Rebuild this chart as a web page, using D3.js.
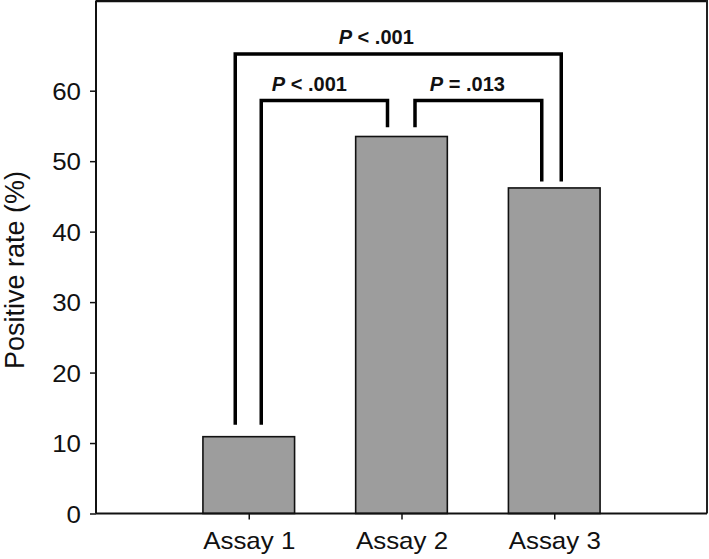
<html>
<head>
<script src="https://cdn.jsdelivr.net/npm/d3@7"></script>
<style>
  body { margin: 0; background: #fff; }
  text { font-family: "Liberation Sans", Arial, sans-serif; }
</style>
</head>
<body>
<svg id="chart" width="709" height="559"></svg>
<script>
// data
var assays = ["Assay 1", "Assay 2", "Assay 3"];
var positive = [10.9, 53.5, 46.2];
var yTicks = [0, 10, 20, 30, 40, 50, 60];
var yLabel = "Positive rate (%)";

// comparisons: which bars, p-value text, bracket level and leg ends (in % units)
var compFrom = ["Assay 1", "Assay 1", "Assay 2"];
var compTo = ["Assay 3", "Assay 2", "Assay 3"];
var compOp = ["<", "<", "="];
var compP = [".001", ".001", ".013"];
var compLevel = [65.2, 58.6, 58.6];
var compFromEnd = [12.6, 12.6, 54.8];
var compToEnd = [47.1, 54.8, 47.1];

var plotL = 96, plotR = 707, plotT = 0.5, plotB = 513.5;

var svg = d3.select("#chart");

var x = d3.scalePoint()
    .domain(assays)
    .range([plotL, plotR])
    .padding(1);

var y = d3.scaleLinear()
    .domain([0, 72.8])
    .range([plotB, plotT]);

var barW = x.step() * 0.6;

// leg offsets from bar centre, and text shift from bracket middle
var legOff = [[-13.5, 7], [12.5, -14], [13.5, -12.5]];
var textShift = [-22, -15, -11];

// bars
svg.selectAll(".bar")
    .data(assays)
    .enter().append("rect")
    .attr("class", "bar")
    .attr("x", function(d) { return x(d) - barW / 2; })
    .attr("y", function(d, i) { return y(positive[i]); })
    .attr("width", barW)
    .attr("height", function(d, i) { return plotB - y(positive[i]); })
    .style("fill", "#9d9d9d")
    .style("stroke", "#111")
    .style("stroke-width", 1.6);

// frame top and right
svg.append("line").attr("x1", plotL).attr("x2", plotR).attr("y1", 1).attr("y2", 1)
    .style("stroke", "#111").style("stroke-width", 2.5);
svg.append("line").attr("x1", plotR).attr("x2", plotR).attr("y1", 0).attr("y2", plotB)
    .style("stroke", "#222").style("stroke-width", 2);

// y axis
var yAxis = svg.append("g")
    .attr("transform", "translate(" + plotL + ",0)")
    .call(d3.axisLeft(y).tickValues(yTicks).tickSize(6).tickPadding(9).tickFormat(d3.format("d")));
yAxis.select(".domain").attr("d", "M0," + plotT + "V" + plotB).style("stroke", "#111").style("stroke-width", 2);
yAxis.selectAll(".tick line").style("stroke", "#111").style("stroke-width", 1.5);
yAxis.selectAll(".tick text")
    .style("font-size", "24px").style("fill", "#111")
    .attr("dy", "0.36em")
    .attr("transform", "scale(1.08,1)")
    .attr("x", -15 / 1.08);

// x axis
var xAxis = svg.append("g")
    .attr("transform", "translate(0," + plotB + ")")
    .call(d3.axisBottom(x).tickSize(6).tickPadding(12));
xAxis.select(".domain").attr("d", "M" + plotL + ",0H" + plotR).style("stroke", "#111").style("stroke-width", 2);
xAxis.selectAll(".tick line").style("stroke", "#111").style("stroke-width", 1.5);
xAxis.selectAll(".tick text")
    .style("font-size", "24px").style("fill", "#111")
    .attr("transform", "scale(1.08,1)")
    .attr("dy", "0.71em");

// y label
svg.append("text")
    .attr("transform", "translate(24,270) rotate(-90)")
    .attr("text-anchor", "middle")
    .style("font-size", "27px")
    .style("fill", "#111")
    .text(yLabel);

// brackets
compFrom.forEach(function(f, i) {
    var x1 = x(f) + legOff[i][0];
    var x2 = x(compTo[i]) + legOff[i][1];
    var yl = y(compLevel[i]);
    svg.append("path")
        .attr("d", "M" + x1 + "," + y(compFromEnd[i]) + "V" + yl + "H" + x2 + "V" + y(compToEnd[i]))
        .style("fill", "none")
        .style("stroke", "#000")
        .style("stroke-width", 3.5);
    var t = svg.append("text")
        .attr("x", (x1 + x2) / 2 + textShift[i])
        .attr("y", yl - 10)
        .attr("text-anchor", "middle")
        .style("font-size", "20px")
        .style("font-weight", "bold")
        .style("fill", "#111");
    t.append("tspan").style("font-style", "italic").text("P");
    t.append("tspan").text(" " + compOp[i] + " " + compP[i]);
});
</script>
</body>
</html>
